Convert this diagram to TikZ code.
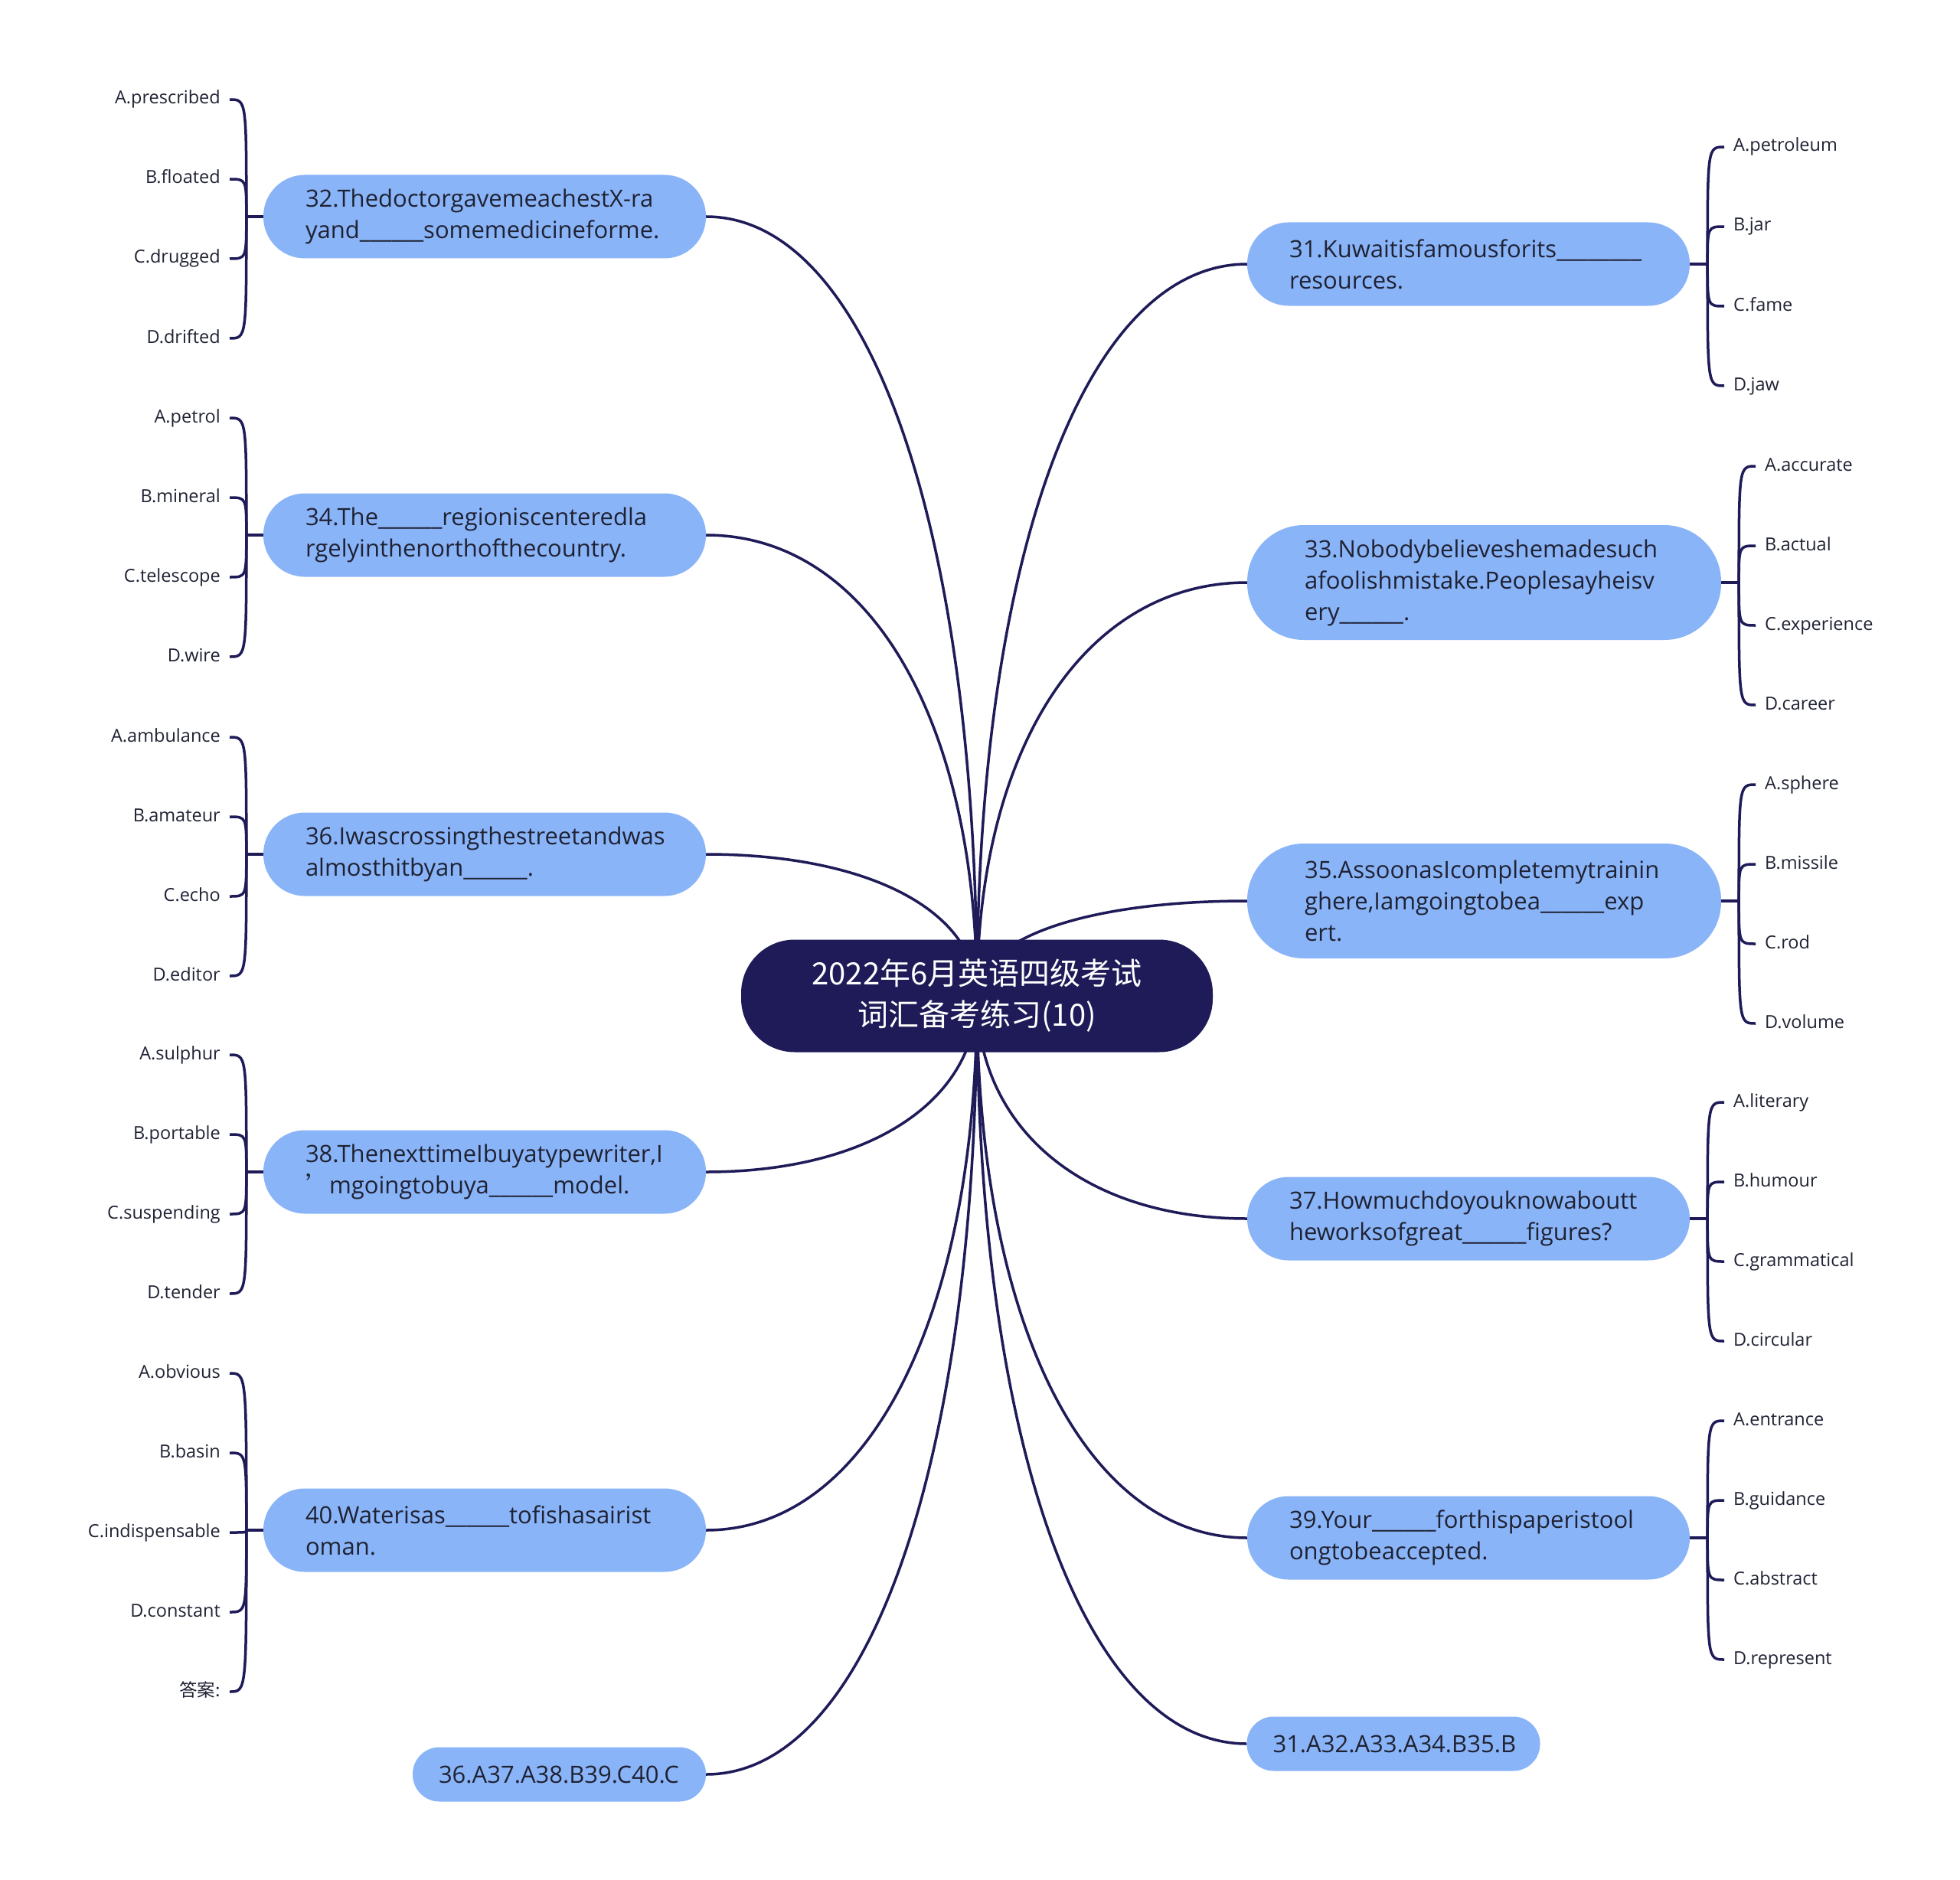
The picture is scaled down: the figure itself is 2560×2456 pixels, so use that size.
\documentclass[tikz,border=0pt]{standalone}
\usepackage{fontspec}
\setmainfont{Open Sans}
\newfontfamily\cjk{Noto Sans CJK SC}
\usetikzlibrary{calc}
\definecolor{navy}{HTML}{1E1B58}
\definecolor{pill}{HTML}{8AB4F8}
\definecolor{ink}{HTML}{1F2233}
\pgfdeclarelayer{bg}
\pgfsetlayers{bg,main}
\tikzset{
  conn/.style={draw=navy, line width=3.5pt},
  root/.style={fill=navy, text=white, rounded corners=70pt, minimum width=616pt,
    minimum height=147pt, inner sep=0pt, align=center,
    font=\cjk\fontsize{40}{54}\selectfont},
  topic/.style={fill=pill, text=ink, rounded corners=54pt, minimum height=109pt,
    inner ysep=0pt, inner xsep=55pt, text width=468pt, align=left,
    font=\fontsize{31}{41}\selectfont},
  topicthree/.style={topic, rounded corners=74pt, minimum height=150pt,
    inner xsep=75pt, text width=469pt},
  answer/.style={topic, rounded corners=35pt, minimum height=71pt,
    inner xsep=34pt, text width=315pt},
  leafl/.style={anchor=east, inner xsep=12pt, inner ysep=0pt, text height=17pt,
    text depth=5pt, text=ink, font=\fontsize{23.5}{28}\selectfont},
  leafr/.style={leafl, anchor=west},
}
\newcommand\mconn[2]{\draw[conn] let \p1=(#1), \p2=(#2) in
  (\p1) .. controls (\x1,{\y1+0.6*(\y2-\y1)}) and ({\x2+0.6*(\x1-\x2)},\y2) .. (\p2);}
\newcommand\leavesL[3]{%
  \path (#1.west) ++(-22,0) coordinate (#1j);
  \draw[conn] (#1.west) -- (#1j);
  \foreach \lt [count=\i] in {#3} {
    \node[leafl] (#1l\i) at (300,{#2+(\i-1)*104}) {\lt};
    \draw[conn] let \p1=(#1j), \p2=(#1l\i.east) in
      (\p1) .. controls (\x1,\y2) .. (\p2);
  }}
\newcommand\leavesR[4]{%
  \path (#1.east) ++(23,0) coordinate (#1j);
  \draw[conn] (#1.east) -- (#1j);
  \foreach \lt [count=\i] in {#4} {
    \node[leafr] (#1l\i) at (#2,{#3+(\i-1)*104}) {\lt};
    \draw[conn] let \p1=(#1j), \p2=(#1l\i.west) in
      (\p1) .. controls (\x1,\y2) .. (\p2);
  }}
\begin{document}
\begin{tikzpicture}[x=1pt,y=-1pt]
\useasboundingbox (0,0) rectangle (2560,2456);
\node[root] (c) at (1276,1301) {2022年6月英语四级考试\\词汇备考练习(10)};
% left topics
\node[topic] (q32) at (633,283) {32.ThedoctorgavemeachestX-ra\\yand\_\_\_\_\_\_somemedicineforme.};
\node[topic] (q34) at (633,699) {34.The\_\_\_\_\_\_regioniscenteredla\\rgelyinthenorthofthecountry.};
\node[topic] (q36) at (633,1116) {36.Iwascrossingthestreetandwas\\almosthitbyan\_\_\_\_\_\_.};
\node[topic] (q38) at (633,1531) {38.ThenexttimeIbuyatypewriter,I\\{\cjk ’}mgoingtobuya\_\_\_\_\_\_model.};
\node[topic] (q40) at (633,1999) {40.Waterisas\_\_\_\_\_\_tofishasairist\\oman.};
\node[answer] (a1) at (730.5,2318) {36.A37.A38.B39.C40.C};
% right topics
\node[topic] (q31) at (1918,345) {31.Kuwaitisfamousforits\_\_\_\_\_\_\_\_\\resources.};
\node[topicthree] (q33) at (1938.5,761) {33.Nobodybelieveshemadesuch\\afoolishmistake.Peoplesayheisv\\ery\_\_\_\_\_\_.};
\node[topicthree] (q35) at (1938.5,1177) {35.AssoonasIcompletemytrainin\\ghere,Iamgoingtobea\_\_\_\_\_\_exp\\ert.};
\node[topic] (q37) at (1918,1592) {37.Howmuchdoyouknowaboutt\\heworksofgreat\_\_\_\_\_\_figures?};
\node[topic] (q39) at (1918,2009) {39.Your\_\_\_\_\_\_forthispaperistool\\ongtobeaccepted.};
\node[answer] (a2) at (1820,2278) {31.A32.A33.A34.B35.B};
% leaves
\leavesL{q32}{130}{A.prescribed,B.floated,C.drugged,D.drifted}
\leavesL{q34}{546}{A.petrol,B.mineral,C.telescope,D.wire}
\leavesL{q36}{963}{A.ambulance,B.amateur,C.echo,D.editor}
\leavesL{q38}{1378}{A.sulphur,B.portable,C.suspending,D.tender}
\leavesL{q40}{1794}{A.obvious,B.basin,C.indispensable,D.constant,{\cjk 答案:}}
\leavesR{q31}{2252}{192}{A.petroleum,B.jar,C.fame,D.jaw}
\leavesR{q33}{2293}{609}{A.accurate,B.actual,C.experience,D.career}
\leavesR{q35}{2293}{1025}{A.sphere,B.missile,C.rod,D.volume}
\leavesR{q37}{2252}{1440}{A.literary,B.humour,C.grammatical,D.circular}
\leavesR{q39}{2252}{1856}{A.entrance,B.guidance,C.abstract,D.represent}
\begin{pgfonlayer}{bg}
\fill[white] (0,0) rectangle (2560,2456);
\mconn{c.center}{q32.east}
\mconn{c.center}{q34.east}
\mconn{c.center}{q36.east}
\mconn{c.center}{q38.east}
\mconn{c.center}{q40.east}
\mconn{c.center}{a1.east}
\mconn{c.center}{q31.west}
\mconn{c.center}{q33.west}
\mconn{c.center}{q35.west}
\mconn{c.center}{q37.west}
\mconn{c.center}{q39.west}
\mconn{c.center}{a2.west}
\end{pgfonlayer}
\end{tikzpicture}
\end{document}
